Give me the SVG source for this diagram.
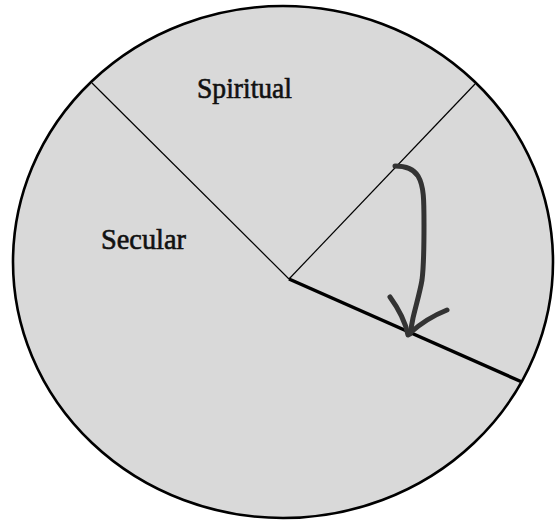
<svg xmlns="http://www.w3.org/2000/svg" width="559" height="523" viewBox="0 0 559 523">
<style>
.lbl{font-family:"Liberation Serif","DejaVu Serif",serif;font-weight:normal;font-size:29px;fill:#111;stroke:#111;stroke-width:0.6}
.thin{stroke:#000;stroke-width:1.2;fill:none}
.hand{stroke:#333;stroke-width:5;fill:none;stroke-linecap:round;stroke-linejoin:round}
</style>
<g id="pie">
<ellipse cx="283" cy="262" rx="270" ry="256" fill="#d9d9d9" stroke="#000" stroke-width="2.6"/>
</g>
<g id="connectors">
<line class="thin" x1="289" y1="279" x2="92" y2="83"/>
<line class="thin" x1="289" y1="279" x2="475" y2="84"/>
<line x1="289" y1="279" x2="522" y2="382" stroke="#000" stroke-width="3.5"/>
<path class="hand" d="M395,166 C405,166 413,168 418,176 C424,186 424,200 424,225 C424,250 424,265 422,280 C420,292 416,305 413,318 L410,334"/>
<path class="hand" d="M390,297 C398,308 405,320 408,335"/>
<path class="hand" d="M447,310 C432,316 420,324 410,333"/>
</g>
<g id="label-spiritual"><text class="lbl" x="197" y="98" textLength="95" lengthAdjust="spacingAndGlyphs">Spiritual</text></g>
<g id="label-secular"><text class="lbl" x="101" y="249" textLength="85" lengthAdjust="spacingAndGlyphs">Secular</text></g>
</svg>
